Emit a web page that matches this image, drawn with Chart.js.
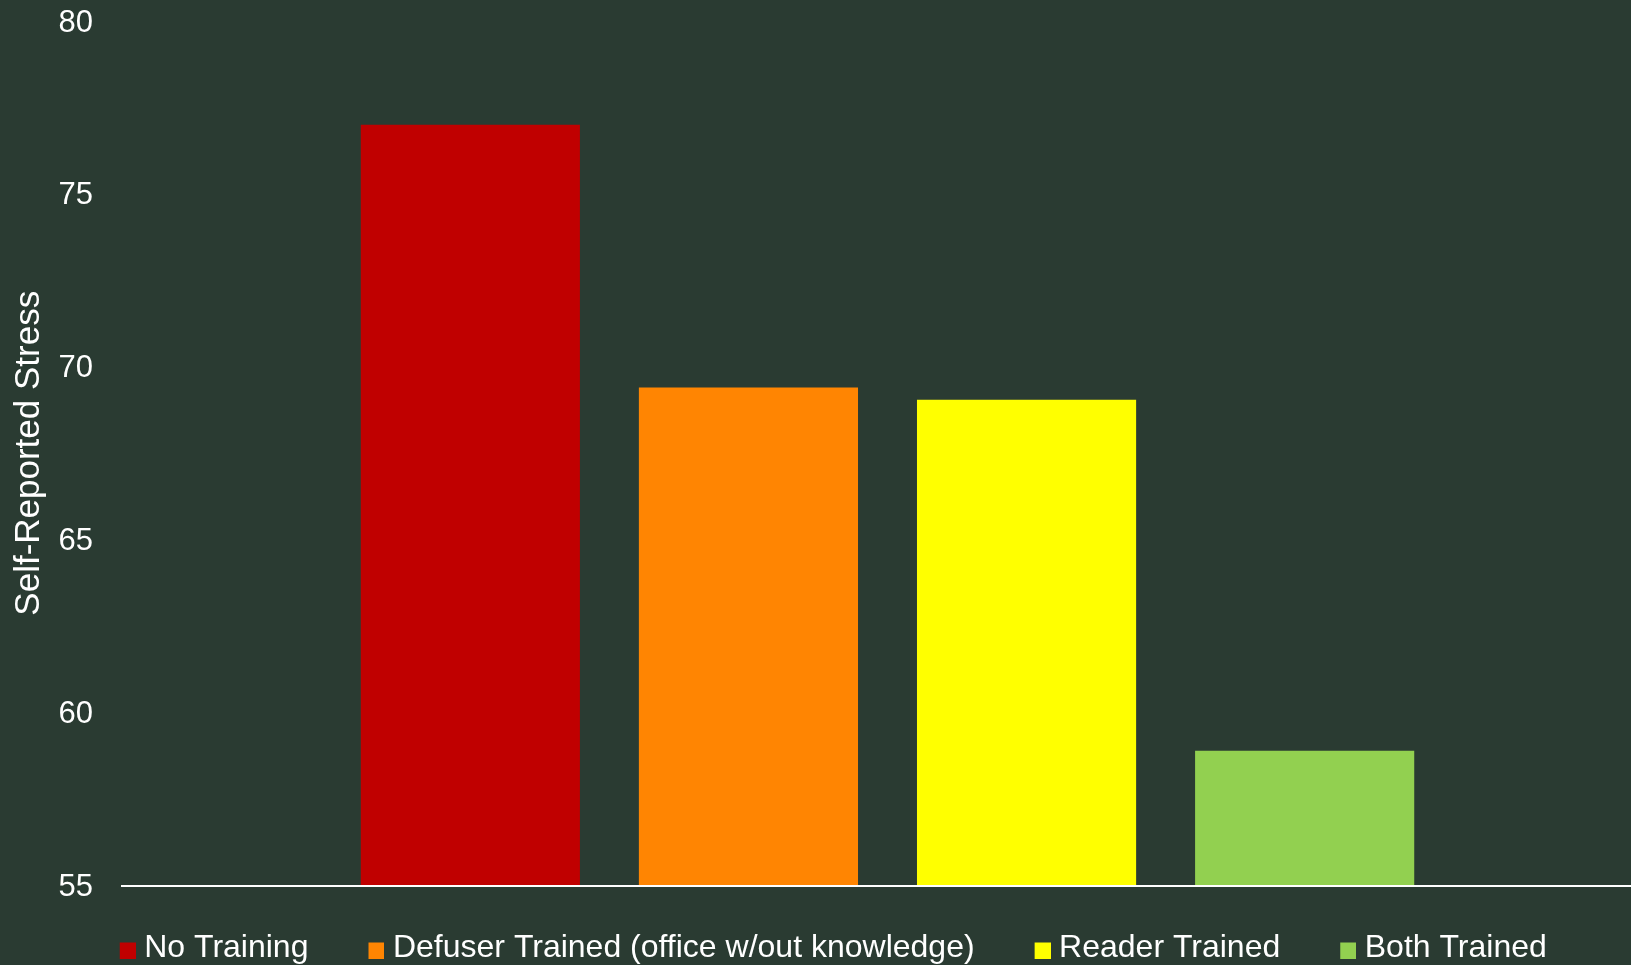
<!DOCTYPE html>
<html>
<head>
<meta charset="utf-8">
<script src="https://cdn.jsdelivr.net/npm/chart.js@4.4.1/dist/chart.umd.min.js"></script>
<style>
  html, body { margin: 0; padding: 0; overflow: hidden; background: #2a3b32; }
  #wrap { position: relative; width: 1653px; height: 974px; }
</style>
</head>
<body>
<div id="wrap"><canvas id="chart"></canvas></div>
<script>
// data
const categories = ['Self-Reported Stress'];
const seriesNames = ['No Training', 'Defuser Trained (office w/out knowledge)', 'Reader Trained', 'Both Trained'];
const stressValues = [77.0, 69.4, 69.05, 58.9];
const yTickValues = [55, 60, 65, 70, 75, 80];

const seriesColors = ['#c00000', '#ff8502', '#ffff00', '#92d050'];
const FONT = "'Liberation Sans', Arial, sans-serif";

// legend swatch: square sits at the right end so it hugs the label text
const makeSwatch = (color) => {
  const c = document.createElement('canvas');
  c.width = 37;
  c.height = 21;
  const ctx = c.getContext('2d');
  ctx.fillStyle = color;
  ctx.fillRect(21, 5, 16, 16);
  return c;
};

const datasets = seriesNames.map((name, i) => ({
  label: name,
  data: [stressValues[i]],
  backgroundColor: seriesColors[i],
  borderWidth: 0,
  pointStyle: makeSwatch(seriesColors[i]),
  barPercentage: 0.788,
  categoryPercentage: 0.7266,
}));

new Chart(document.getElementById('chart'), {
  type: 'bar',
  data: { labels: categories, datasets },
  options: {
    responsive: true,
    maintainAspectRatio: false,
    animation: false,
    layout: { padding: { top: 21, left: 0, right: 0, bottom: 0 } },
    plugins: {
      tooltip: { enabled: false },
      legend: {
        position: 'bottom',
        align: 'center',
        labels: {
          color: '#ffffff',
          font: { family: FONT, size: 32 },
          usePointStyle: true,
          boxWidth: 22,
          boxHeight: 16,
          padding: 46.5,
        },
      },
    },
    scales: {
      x: {
        grid: { display: false, drawTicks: false },
        ticks: { display: false },
        border: { display: true, color: '#ffffff', width: 2, z: 1 },
      },
      y: {
        min: yTickValues[0],
        max: yTickValues[yTickValues.length - 1],
        afterFit: (scale) => {
          scale.width = 122;
          // tick padding is horizontal only here, don't let it push the plot down
          scale.paddingTop = 0;
          scale.paddingBottom = 0;
        },
        afterBuildTicks: (scale) => { scale.ticks = yTickValues.map(v => ({ value: v })); },
        grid: { display: false, drawTicks: false },
        border: { display: false },
        ticks: {
          color: '#ffffff',
          padding: 29,
          labelOffset: 2,
          font: { family: FONT, size: 31 },
        },
        title: {
          display: true,
          text: 'Self-Reported Stress',
          color: '#ffffff',
          font: { family: FONT, size: 35 },
          padding: { top: 8, bottom: 0 },
        },
      },
    },
  },
});
</script>
</body>
</html>
